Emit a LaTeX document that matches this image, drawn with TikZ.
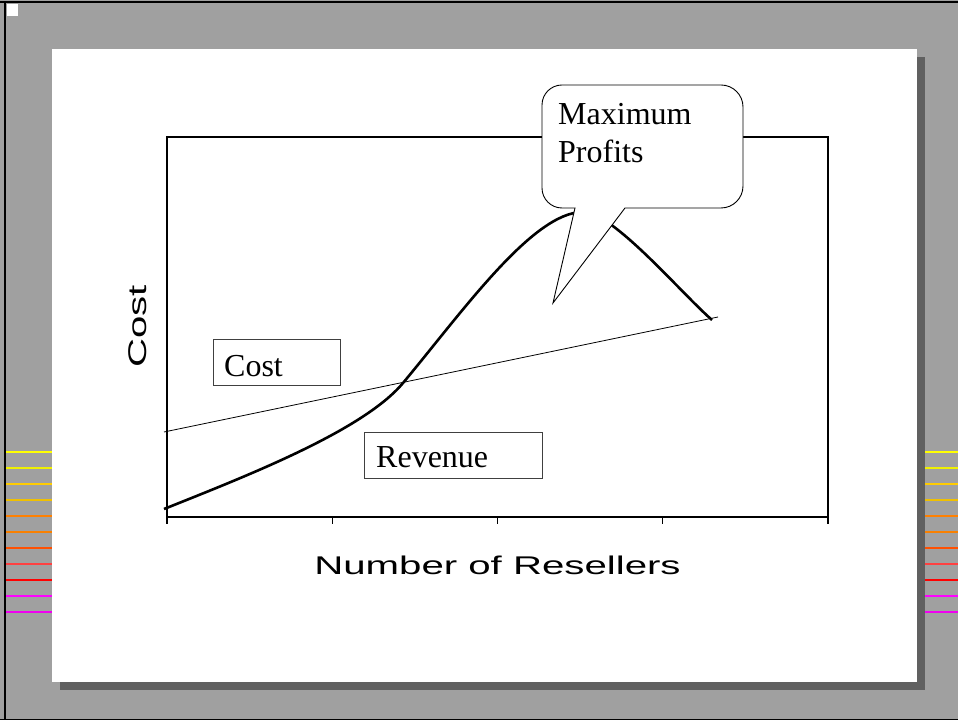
\documentclass[tikz,border=0pt]{standalone}
\usepackage{fontspec}
\setmainfont{Liberation Serif}
\newfontfamily\axisfont[FakeStretch=1.57]{Liberation Sans}
\definecolor{slidegray}{HTML}{A0A0A0}
\definecolor{shadowgray}{HTML}{606060}
\definecolor{sA}{HTML}{FFFF00}
\definecolor{sB}{HTML}{F0F000}
\definecolor{sC}{HTML}{FFCC00}
\definecolor{sD}{HTML}{F0C000}
\definecolor{sE}{HTML}{FF8000}
\definecolor{sF}{HTML}{F88000}
\definecolor{sG}{HTML}{FF5000}
\definecolor{sH}{HTML}{FF4040}
\definecolor{sI}{HTML}{FF0000}
\definecolor{sJ}{HTML}{FF00FF}
\definecolor{sK}{HTML}{F000F0}
\begin{document}
\begin{tikzpicture}[x=1pt,y=1pt,
  plotframe/.style={line width=1.6pt},
  tickmark/.style={line width=1.4pt},
  costline/.style={line width=0.8pt},
  revline/.style={line width=2.6pt, line join=round},
  legendbox/.style={draw=black!75, line width=0.9pt, fill=white, inner sep=0pt, anchor=south west},
  seriftext/.style={font=\fontsize{32}{38}\selectfont, anchor=base west, inner sep=0pt},
  axislabel/.style={font=\axisfont\fontsize{25.6}{30}\selectfont, inner sep=0pt, anchor=base},
  stripe/.style={line width=2pt}]
\useasboundingbox (0,0) rectangle (958,720);

% slide background and border bars
\fill[slidegray] (0,0) rectangle (958,720);
\fill[black] (0,716.7) rectangle (958,719);
\fill[black] (4,0) rectangle (6,719);
\fill[black] (0,0) rectangle (958,1);
\fill[white] (6.7,704.3) rectangle (18,715.7);

% coloured side stripes
\foreach \yy/\cc in {268.3/sA,252.3/sB,236.3/sC,220.3/sD,204.3/sE,188.3/sF,172.3/sG,156.3/sH,140.3/sI,124.3/sJ,108.3/sK}{
  \draw[stripe,\cc] (6,\yy) -- (52,\yy);
  \draw[stripe,\cc] (925,\yy) -- (958,\yy);
}

% white panel with drop shadow
\fill[shadowgray] (60,30) rectangle (925,663);
\fill[white] (52,38) rectangle (917,671);

% plot frame and x-axis ticks
\draw[plotframe] (167,583) -- (167,203) -- (828,203) -- (828,583) -- cycle;
\foreach \i in {0,...,4}
  \draw[tickmark] ({167+\i*165.25},203) -- ++(0,-7);

% cost line
\coordinate (c0) at (164,288);
\coordinate (c1) at (718,403);
\draw[costline] (c0) -- (c1);

% revenue curve
\coordinate (r0) at (164,211);
\coordinate (r1) at (403,337);
\coordinate (r2) at (583,508);
\coordinate (r3) at (712,400);
\draw[revline] (r0) .. controls (244,243) and (363,289) .. (r1)
  .. controls (463,409) and (533,508) .. (r2)
  .. controls (613,508) and (680,428) .. (r3);

% legend boxes
\node[legendbox, minimum width=127pt, minimum height=46pt] (costbox) at (213,334) {};
\node[seriftext] (costtext) at (224,343) {Cost};
\node[legendbox, minimum width=178pt, minimum height=46pt] (revbox) at (364,241) {};
\node[seriftext] (revtext) at (376,252) {Revenue};

% callout
\draw[fill=white, line width=0.9pt, line join=miter]
  (575,512) -- (553,417) -- (625,512) -- (721,512)
  arc[start angle=-90, end angle=0, radius=22pt] -- (743,613)
  arc[start angle=0, end angle=90, radius=22pt] -- (562,635)
  arc[start angle=90, end angle=180, radius=20pt] -- (542,532)
  arc[start angle=180, end angle=270, radius=20pt] -- cycle;
\node[seriftext] (maxtext) at (558,595) {Maximum};
\node[seriftext] (proftext) at (558,557) {Profits};

% axis titles
\node[axislabel] (xtitle) at (497.5,145) {Number of Resellers};
\node[axislabel, rotate=90] (ytitle) at (146.7,393.5) {Cost};
\end{tikzpicture}
\end{document}
